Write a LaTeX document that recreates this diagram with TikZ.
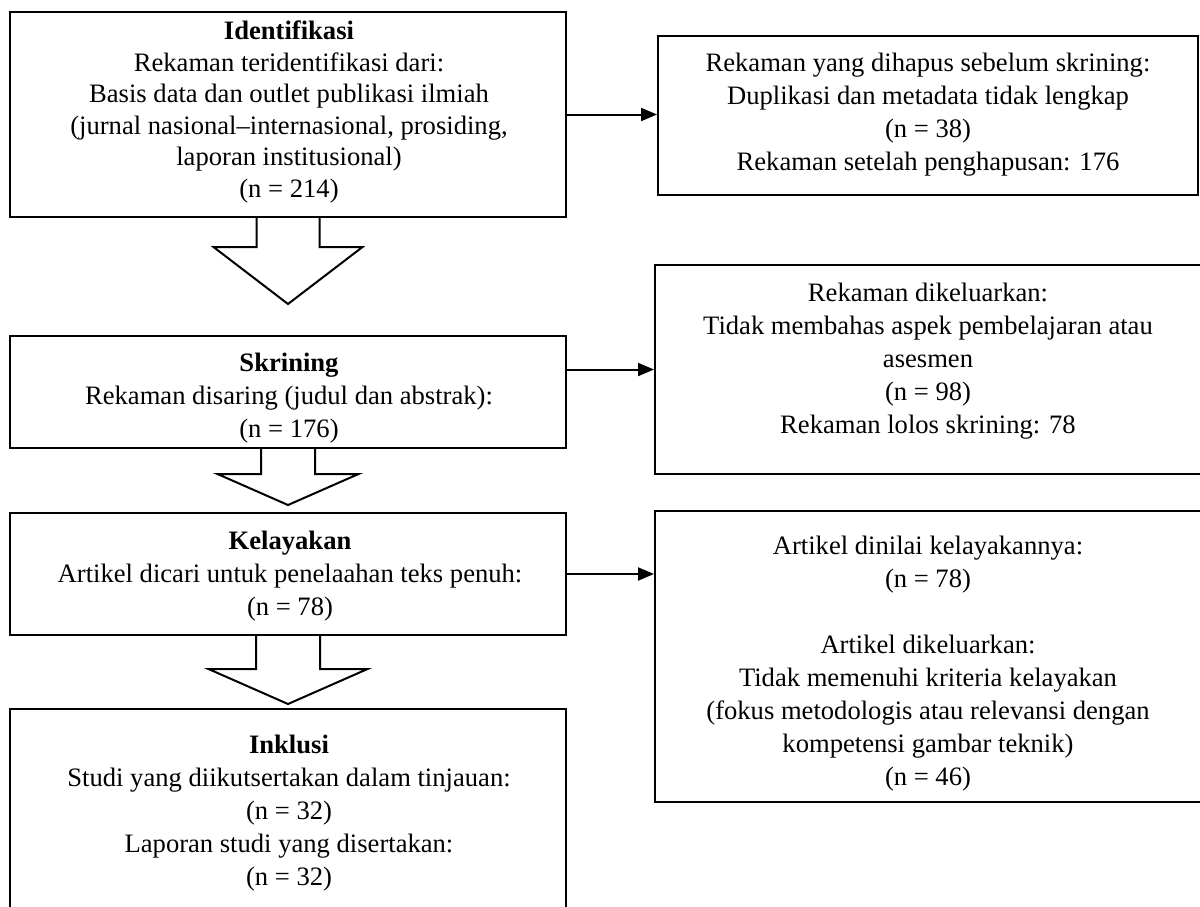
\documentclass[tikz,border=0pt]{standalone}
\usepackage{fontspec}
\setmainfont{Liberation Serif}
\usetikzlibrary{arrows.meta,calc}
\begin{document}
\begin{tikzpicture}[x=0.5pt,y=-0.5pt,
  box/.style={draw=black,line width=1pt,rectangle,inner sep=0pt},
  txt/.style={align=center,inner sep=0pt,font=\fontsize{13.3}{16.5}\selectfont},
  thinarrow/.style={line width=1pt,-{Triangle[length=8pt,width=6.5pt]}},
  blockarrow/.style={draw=black,line width=1pt,fill=white,line join=miter}]
\useasboundingbox (0,0) rectangle (1200,906);
\clip (0,0) rectangle (1200,906);
% left column boxes
\node[box,minimum width=278pt,minimum height=102.5pt] (b1) at (288,114.5) {};
\node[box,minimum width=278pt,minimum height=56pt] (b2) at (288,392) {};
\node[box,minimum width=278pt,minimum height=61pt] (b3) at (288,574) {};
\node[box,minimum width=278pt,minimum height=102pt] (b4) at (288,811) {};
% right column boxes
\node[box,minimum width=270pt,minimum height=79.5pt] (r1) at (928,115.5) {};
\node[box,minimum width=273pt,minimum height=104.5pt] (r2) at (928,369.5) {};
\node[box,minimum width=273pt,minimum height=145.5pt] (r3) at (928,656.5) {};
% texts
\node[txt,font=\fontsize{13.3}{15.75}\selectfont] (t1) at (289,112) {\textbf{Identifikasi}\\Rekaman teridentifikasi dari:\\Basis data dan outlet publikasi ilmiah\\(jurnal nasional–internasional, prosiding,\\laporan institusional)\\(n = 214)};
\node[txt] (t2) at (289,398) {\textbf{Skrining}\\Rekaman disaring (judul dan abstrak):\\(n = 176)};
\node[txt] (t3) at (290,576) {\textbf{Kelayakan}\\Artikel dicari untuk penelaahan teks penuh:\\(n = 78)};
\node[txt] (t4) at (289,813) {\textbf{Inklusi}\\Studi yang diikutsertakan dalam tinjauan:\\(n = 32)\\Laporan studi yang disertakan:\\(n = 32)};
\node[txt] (s1) at (928,115) {Rekaman yang dihapus sebelum skrining:\\Duplikasi dan metadata tidak lengkap\\(n = 38)\\Rekaman setelah penghapusan: 176};
\node[txt] (s2) at (928,361) {Rekaman dikeluarkan:\\Tidak membahas aspek pembelajaran atau\\asesmen\\(n = 98)\\Rekaman lolos skrining: 78};
\node[txt] (s3) at (928,664) {Artikel dinilai kelayakannya:\\(n = 78)\\[16.5pt]Artikel dikeluarkan:\\Tidak memenuhi kriteria kelayakan\\(fokus metodologis atau relevansi dengan\\kompetensi gambar teknik)\\(n = 46)};
% thin arrows
\draw[thinarrow] (b1.east) -- (r1.west |- b1.east);
\draw[thinarrow] (b2.east |- r2.west) -- (r2.west);
\draw[thinarrow] (b3.east) -- (r3.west |- b3.east);
% block arrows
\draw[blockarrow] ($(b1.south)+(-31.5,0)$) -- ++(0,29) -- ++(-43,0) -- ($(b1.south)+(0,86)$) -- ($(b1.south)+(74.5,29)$) -- ++(-43,0) -- ($(b1.south)+(31.5,0)$);
\draw[blockarrow] ($(b2.south)+(-27,0)$) -- ++(0,25) -- ++(-43.5,0) -- ($(b2.south)+(0,56)$) -- ($(b2.south)+(70.5,25)$) -- ++(-43.5,0) -- ($(b2.south)+(27,0)$);
\draw[blockarrow] ($(b3.south)+(-32,0)$) -- ++(0,33) -- ++(-47.5,0) -- ($(b3.south)+(0,68)$) -- ($(b3.south)+(79.5,33)$) -- ++(-47.5,0) -- ($(b3.south)+(32,0)$);
\end{tikzpicture}
\end{document}
